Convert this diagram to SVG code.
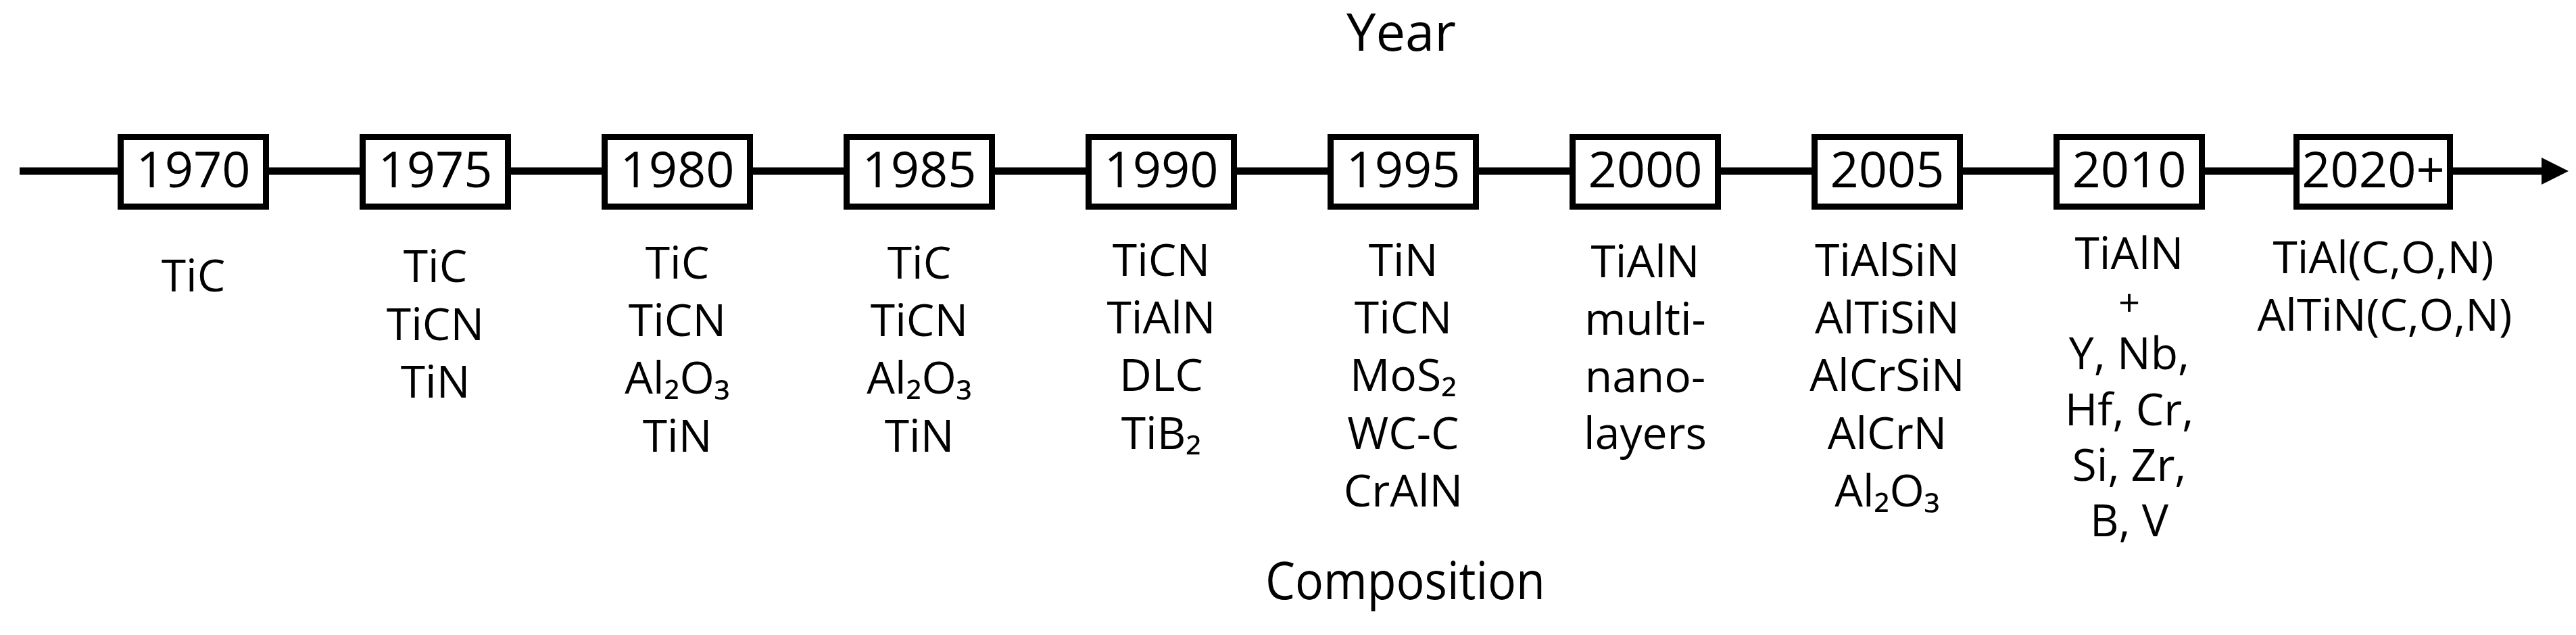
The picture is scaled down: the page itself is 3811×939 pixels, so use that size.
<svg xmlns="http://www.w3.org/2000/svg" width="3811" height="939" viewBox="0 0 3811 939">
<style>
.bg{fill:#ffffff}
.box{fill:#ffffff;stroke:#000000;stroke-width:9}
.conn{stroke:#000000;stroke-width:11;fill:none}
.yr{font-family:"Open Sans","Noto Sans","DejaVu Sans",sans-serif;font-size:74px;fill:#000000;text-anchor:middle}
.cmp{font-family:"Open Sans","Noto Sans","DejaVu Sans",sans-serif;font-size:66px;fill:#000000;text-anchor:middle}
.plus{font-family:"Liberation Sans","Open Sans",sans-serif;font-size:54px}
.ttl{font-family:"Open Sans","Noto Sans","DejaVu Sans",sans-serif;font-size:76px;fill:#000000;text-anchor:middle}
</style>
<defs>
<marker id="arrow" markerUnits="userSpaceOnUse" markerWidth="40" markerHeight="40" viewBox="0 0 36 36" refX="0" refY="18" orient="auto">
<path d="M0,0 L36,18 L0,36 Z" fill="#000000"/>
</marker>
</defs>
<rect class="bg" x="0" y="0" width="3811" height="939"/>
<text id="title-year" class="ttl" x="2073" y="75" textLength="162" lengthAdjust="spacingAndGlyphs">Year</text>
<text id="title-composition" class="ttl" x="2079" y="886" textLength="414" lengthAdjust="spacingAndGlyphs">Composition</text>
<g id="connectors">
<line class="conn" x1="29" y1="253" x2="178" y2="253"/>
<line class="conn" x1="394" y1="253" x2="536" y2="253"/>
<line class="conn" x1="752" y1="253" x2="894" y2="253"/>
<line class="conn" x1="1110" y1="253" x2="1252" y2="253"/>
<line class="conn" x1="1468" y1="253" x2="1610" y2="253"/>
<line class="conn" x1="1826" y1="253" x2="1968" y2="253"/>
<line class="conn" x1="2184" y1="253" x2="2326" y2="253"/>
<line class="conn" x1="2542" y1="253" x2="2684" y2="253"/>
<line class="conn" x1="2900" y1="253" x2="3042" y2="253"/>
<line class="conn" x1="3258" y1="253" x2="3397" y2="253"/>
<line class="conn" x1="3625" y1="253" x2="3760" y2="253" marker-end="url(#arrow)"/>
</g>
<g id="node-1970">
<rect class="box" x="178.5" y="202.5" width="215" height="103"/>
<text class="yr" x="286" y="277">1970</text>
<text class="cmp" x="286" y="431">TiC</text>
</g>
<g id="node-1975">
<rect class="box" x="536.5" y="202.5" width="215" height="103"/>
<text class="yr" x="644" y="277">1975</text>
<text class="cmp" x="644" y="417">TiC</text>
<text class="cmp" x="644" y="503">TiCN</text>
<text class="cmp" x="644" y="588">TiN</text>
</g>
<g id="node-1980">
<rect class="box" x="894.5" y="202.5" width="215" height="103"/>
<text class="yr" x="1002" y="277">1980</text>
<text class="cmp" x="1002" y="412">TiC</text>
<text class="cmp" x="1002" y="497">TiCN</text>
<text class="cmp" x="1002" y="582">Al₂O₃</text>
<text class="cmp" x="1002" y="668">TiN</text>
</g>
<g id="node-1985">
<rect class="box" x="1252.5" y="202.5" width="215" height="103"/>
<text class="yr" x="1360" y="277">1985</text>
<text class="cmp" x="1360" y="412">TiC</text>
<text class="cmp" x="1360" y="497">TiCN</text>
<text class="cmp" x="1360" y="582">Al₂O₃</text>
<text class="cmp" x="1360" y="668">TiN</text>
</g>
<g id="node-1990">
<rect class="box" x="1610.5" y="202.5" width="215" height="103"/>
<text class="yr" x="1718" y="277">1990</text>
<text class="cmp" x="1718" y="408">TiCN</text>
<text class="cmp" x="1718" y="493">TiAlN</text>
<text class="cmp" x="1718" y="578">DLC</text>
<text class="cmp" x="1718" y="664">TiB₂</text>
</g>
<g id="node-1995">
<rect class="box" x="1968.5" y="202.5" width="215" height="103"/>
<text class="yr" x="2076" y="277">1995</text>
<text class="cmp" x="2076" y="408">TiN</text>
<text class="cmp" x="2076" y="493">TiCN</text>
<text class="cmp" x="2076" y="578">MoS₂</text>
<text class="cmp" x="2076" y="664">WC-C</text>
<text class="cmp" x="2076" y="749">CrAlN</text>
</g>
<g id="node-2000">
<rect class="box" x="2326.5" y="202.5" width="215" height="103"/>
<text class="yr" x="2434" y="277">2000</text>
<text class="cmp" x="2434" y="410">TiAlN</text>
<text class="cmp" x="2434" y="495">multi-</text>
<text class="cmp" x="2434" y="580">nano-</text>
<text class="cmp" x="2434" y="664">layers</text>
</g>
<g id="node-2005">
<rect class="box" x="2684.5" y="202.5" width="215" height="103"/>
<text class="yr" x="2792" y="277">2005</text>
<text class="cmp" x="2792" y="408">TiAlSiN</text>
<text class="cmp" x="2792" y="493">AlTiSiN</text>
<text class="cmp" x="2792" y="578">AlCrSiN</text>
<text class="cmp" x="2792" y="664">AlCrN</text>
<text class="cmp" x="2792" y="749">Al₂O₃</text>
</g>
<g id="node-2010">
<rect class="box" x="3042.5" y="202.5" width="215" height="103"/>
<text class="yr" x="3150" y="277">2010</text>
<text class="cmp" x="3150" y="398">TiAlN</text>
<text class="cmp plus" x="3150" y="466">+</text>
<text class="cmp" x="3150" y="546">Y, Nb,</text>
<text class="cmp" x="3150" y="629">Hf, Cr,</text>
<text class="cmp" x="3150" y="711">Si, Zr,</text>
<text class="cmp" x="3150" y="793">B, V</text>
</g>
<g id="node-2020">
<rect class="box" x="3397.5" y="202.5" width="227" height="103"/>
<text class="yr" x="3511" y="277">2020+</text>
<text class="cmp" x="3526" y="404">TiAl(C,O,N)</text>
<text class="cmp" x="3528" y="489">AlTiN(C,O,N)</text>
</g>
</svg>
